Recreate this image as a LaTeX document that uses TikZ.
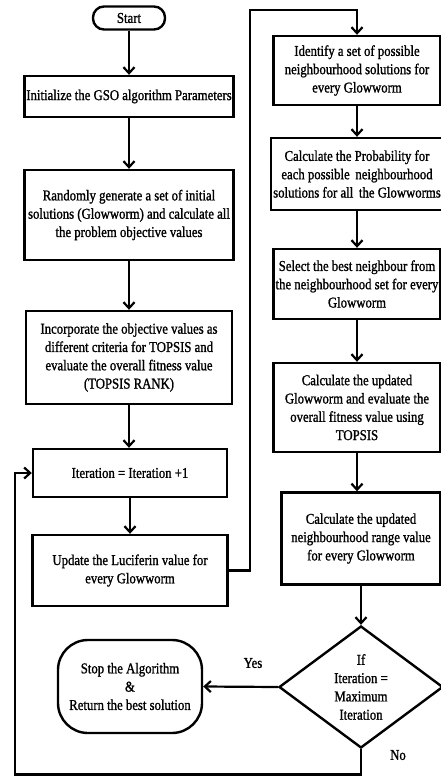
\documentclass[tikz,border=0pt]{standalone}
\usepackage{fontspec}
\setmainfont{Liberation Serif}[FakeStretch=0.85, FakeBold=1.2]
\usepackage{tikz}
\usetikzlibrary{arrows.meta}
\usetikzlibrary{shapes.geometric}
\tikzstyle{bx} = [rectangle, draw, line width=2.4pt, align=center, inner sep=2pt]
\tikzstyle{tm} = [rectangle, draw, line width=2.4pt, align=center, inner sep=2pt]
\tikzstyle{dm} = [diamond, draw, line width=2.4pt, align=center, inner sep=0pt]
\tikzstyle{lb} = [inner sep=1pt]
\begin{document}
\begin{tikzpicture}
				[x=1pt, y=-1pt,
				every node/.style={font=\fontsize{15}{18.3}\selectfont},
				line width=2.2pt, >={Straight Barb[length=6pt,width=11pt]}
				]
				\useasboundingbox (0,0) rectangle (441,776);
				% left column
				\draw (129,18) node[tm, rounded corners=11pt, minimum width=72pt, minimum height=23pt](start){Start};
				\draw (129,96.5) node[bx, minimum width=207pt, minimum height=41pt](init){Initialize the GSO algorithm Parameters};
				\draw (129,215) node[bx, minimum width=209pt, minimum height=90pt](rand){Randomly generate a set of initial\\solutions (Glowworm) and calculate all\\the problem objective values};
				\draw (129,357.5) node[bx, minimum width=206pt, minimum height=93pt](incorp){Incorporate the objective values as\\different criteria for TOPSIS and\\evaluate the overall fitness value\\(TOPSIS RANK)};
				\draw (130,473) node[bx, minimum width=194pt, minimum height=48pt](iter){Iteration = Iteration +1};
				\draw (130,570.5) node[bx, minimum width=195pt, minimum height=71pt](upd){Update the Luciferin value for\\every Glowworm};
				\draw (130,686.5) node[tm, rounded corners=30pt, minimum width=144pt, minimum height=93pt](stop){Stop the Algorithm\\\&\\Return the best solution};
				% right column
				\draw (357,70.5) node[bx, minimum width=167pt, minimum height=69pt](ident){Identify a set of possible\\neighbourhood solutions for\\every Glowworm};
				\draw (357,174) node[bx, minimum width=167pt, minimum height=72pt](prob){Calculate the Probability for\\each possible\, neighbourhood\\solutions for all\, the Glowworms};
				\draw (357,284) node[bx, minimum width=167pt, minimum height=70pt](sel){Select the best neighbour from\\the neighbourhood set for every\\Glowworm};
				\draw (357,407.5) node[bx, minimum width=167pt, minimum height=89pt](glow){Calculate the updated\\Glowworm and evaluate the\\overall fitness value using\\TOPSIS};
				\draw (361,538.5) node[bx, minimum width=159pt, minimum height=92pt](range){Calculate the updated\\neighbourhood range value\\for every Glowworm};
				\draw (361,687) node[dm, minimum width=164pt, minimum height=122pt](cond){If\\Iteration =\\Maximum\\Iteration};
				\draw (253,663) node[lb](yes){Yes};
				\draw (398,755) node[lb](no){No};
				\coordinate (up) at (250,10);
				\coordinate (down) at (15,774.5);
				\foreach \from/\to in {start/init,init/rand,rand/incorp,incorp/iter,iter/upd,ident/prob,prob/sel,sel/glow,glow/range,range/cond}
				\draw[->] (\from.south) -- (\from.south |- \to.north);
				\draw[->] (upd.east) -| (up) -| (ident.north);
				\draw[->] (cond.west) -- (stop.east);
				\draw[->] (cond.south) |- (down) |- (iter.west);
			\end{tikzpicture}
\end{document}
